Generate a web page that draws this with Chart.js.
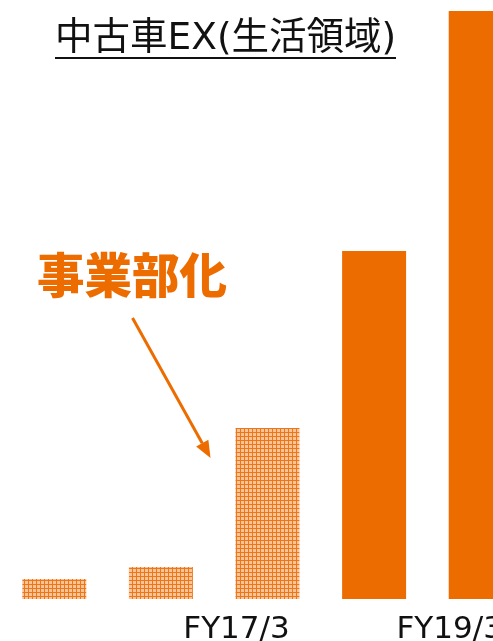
<!DOCTYPE html>
<html>
<head>
<meta charset="utf-8">
<script src="https://cdn.jsdelivr.net/npm/chart.js@4/dist/chart.umd.min.js"></script>
<style>
  html, body { margin: 0; padding: 0; background: #fff; overflow: hidden; }
  #wrap { position: absolute; left: 0; top: 0; width: 535px; height: 641px; }
  #chartUsedCar { display: block; }
  .title {
    position: absolute; left: 55px; top: 16px;
    font-family: "DejaVu Sans", "Noto Sans CJK JP", sans-serif;
    font-size: 37.5px; line-height: 41px; color: #111;
    border-bottom: 2px solid #111; white-space: nowrap;
  }
  .note {
    position: absolute; left: 37px; top: 249px;
    font-family: "Noto Sans CJK JP", sans-serif; font-weight: 900;
    font-size: 47.5px; line-height: 47px; color: #ED6C00; white-space: nowrap;
  }
</style>
</head>
<body>
<div id="wrap">
  <canvas id="chartUsedCar" width="535" height="641"></canvas>
  <div class="title">中古車EX(生活領域)</div>
  <div class="note">事業部化</div>
</div>
<script>
    var categories = ['FY15/3', 'FY16/3', 'FY17/3', 'FY18/3', 'FY19/3'];
    var tickLabels = ['', '', 'FY17/3', '', 'FY19/3'];
    var values = [20, 32, 171, 348, 588];
    // 前3期は網掛け、事業部化以降はベタ塗り
    var hatched = [true, true, true, false, false];

    var ORANGE = '#ED6C00';

    function makeHatch() {
        var c = document.createElement('canvas');
        c.width = 4;
        c.height = 4;
        var g = c.getContext('2d');
        g.fillStyle = '#F9C49A';
        g.fillRect(0, 0, 4, 4);
        g.fillStyle = '#EE7616';
        g.fillRect(0, 0, 4, 1);
        g.fillRect(0, 0, 1, 4);
        return g.createPattern(c, 'repeat');
    }

    var hatch = makeHatch();

    // 事業部化の矢印（3本目の棒の左上を指す）
    var arrowPlugin = {
        id: 'arrow',
        afterDatasetsDraw: function(chart) {
            var bar = chart.getDatasetMeta(0).data[2];
            if (!bar) return;
            var ctx = chart.ctx;
            var tx = bar.x - bar.width / 2 - 25;
            var ty = bar.y + 30;
            var sx = tx - 78;
            var sy = ty - 140;
            var ang = Math.atan2(ty - sy, tx - sx);
            var head = 17, half = 7;
            ctx.save();
            ctx.strokeStyle = ORANGE;
            ctx.fillStyle = ORANGE;
            ctx.lineWidth = 3;
            ctx.beginPath();
            ctx.moveTo(sx, sy);
            ctx.lineTo(tx - Math.cos(ang) * head, ty - Math.sin(ang) * head);
            ctx.stroke();
            ctx.beginPath();
            ctx.moveTo(tx, ty);
            ctx.lineTo(tx - Math.cos(ang) * head + Math.sin(ang) * half,
                       ty - Math.sin(ang) * head - Math.cos(ang) * half);
            ctx.lineTo(tx - Math.cos(ang) * head - Math.sin(ang) * half,
                       ty - Math.sin(ang) * head + Math.cos(ang) * half);
            ctx.closePath();
            ctx.fill();
            ctx.restore();
        }
    };

    new Chart(document.getElementById('chartUsedCar'), {
        type: 'bar',
        data: {
            labels: categories,
            datasets: [{
                data: values,
                backgroundColor: hatched.map(function(h) { return h ? hatch : ORANGE; }),
                borderWidth: 0,
                categoryPercentage: 1,
                barPercentage: 0.6
            }]
        },
        options: {
            responsive: false,
            animation: false,
            layout: { padding: { top: 11, left: 1, right: 1, bottom: 0 } },
            plugins: { legend: { display: false }, tooltip: { enabled: false } },
            scales: {
                x: {
                    grid: { display: false, drawTicks: false },
                    border: { display: false },
                    afterFit: function(s) {
                        s.height = 42;
                        s.paddingLeft = 0;
                        s.paddingRight = 0;
                    },
                    ticks: {
                        autoSkip: false,
                        maxRotation: 0,
                        padding: 12,
                        labelOffset: -31,
                        color: '#111',
                        font: { family: 'DejaVu Sans', size: 31 },
                        callback: function(v, i) { return tickLabels[i]; }
                    }
                },
                y: { display: false, min: 0, max: 588 }
            }
        },
        plugins: [arrowPlugin]
    });
</script>
</body>
</html>
